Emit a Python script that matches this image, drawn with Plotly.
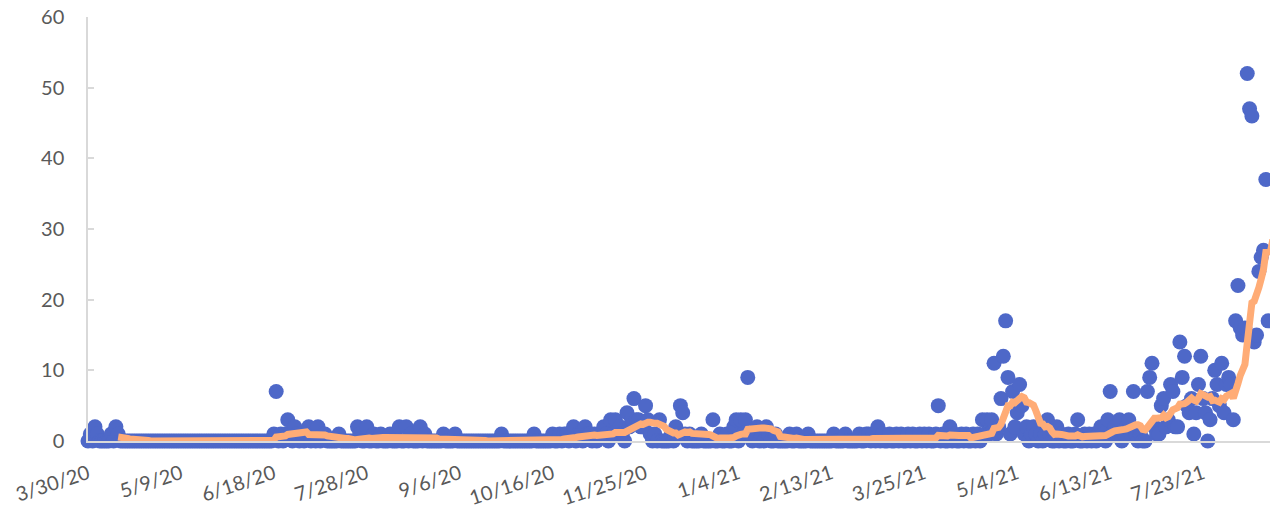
import pandas as pd
import plotly.graph_objects as go

# ---------------- data (daily values) ----------------
start_date = "2020-03-30"

counts_2020_03 = [0, 1]
counts_2020_04 = [0, 2, 1, 0, 0, 0, 0, 0, 1, 0, 2, 1, 0, 0, 0, 0, 0, 0, 0, 0,
                  0, 0, 0, 0, 0, 0, 0, 0, 0, 0]
counts_2020_05 = [0, 0, 0, 0, 0, 0, 0, 0, 0, 0, 0, 0, 0, 0, 0, 0, 0, 0, 0, 0,
                  0, 0, 0, 0, 0, 0, 0, 0, 0, 0, 0]
counts_2020_06 = [0, 0, 0, 0, 0, 0, 0, 0, 0, 0, 0, 0, 0, 0, 0, 0, 0, 1, 7, 0,
                  1, 0, 1, 3, 1, 0, 2, 1, 0, 1]
counts_2020_07 = [0, 1, 2, 0, 1, 0, 2, 0, 1, 1, 0, 0, 0, 0, 0, 1, 0, 0, 0, 0,
                  0, 0, 0, 2, 1, 0, 0, 2, 0, 0, 1]
counts_2020_08 = [0, 0, 1, 0, 0, 0, 1, 0, 0, 0, 2, 0, 0, 2, 0, 1, 0, 0, 0, 2,
                  0, 1, 0, 0, 0, 0, 0, 0, 0, 1, 0]
counts_2020_09 = [0, 0, 0, 1, 0, 0, 0, 0, 0, 0, 0, 0, 0, 0, 0, 0, 0, 0, 0, 0,
                  0, 0, 0, 1, 0, 0, 0, 0, 0, 0]
counts_2020_10 = [0, 0, 0, 0, 0, 0, 0, 1, 0, 0, 0, 0, 0, 0, 0, 1, 0, 0, 1, 0,
                  1, 1, 0, 1, 2, 0, 1, 1, 0, 2, 1]
counts_2020_11 = [1, 0, 1, 0, 1, 1, 2, 1, 0, 3, 1, 3, 1, 2, 1, 0, 4, 2, 3, 6,
                  3, 3, 2, 2, 5, 3, 1, 0, 1, 0]
counts_2020_12 = [3, 0, 0, 0, 0, 1, 0, 2, 1, 5, 4, 1, 0, 1, 0, 0, 0, 0, 1, 0,
                  0, 0, 0, 3, 0, 0, 1, 0, 0, 1, 0]
counts_2021_01 = [0, 2, 3, 0, 3, 1, 3, 9, 1, 0, 1, 2, 0, 1, 0, 2, 1, 0, 0, 1,
                  0, 0, 0, 0, 0, 1, 0, 0, 1, 0, 0]
counts_2021_02 = [0, 0, 1, 0, 0, 0, 0, 0, 0, 0, 0, 0, 0, 1, 0, 0, 0, 0, 1, 0,
                  0, 0, 0, 0, 1, 0, 0, 1]
counts_2021_03 = [1, 0, 1, 0, 2, 0, 1, 0, 0, 1, 0, 0, 1, 0, 1, 0, 0, 1, 0, 1,
                  0, 0, 1, 0, 1, 0, 1, 0, 0, 1, 5]
counts_2021_04 = [0, 1, 0, 0, 2, 0, 1, 0, 0, 1, 0, 1, 0, 0, 1, 0, 1, 0, 3, 1,
                  3, 1, 3, 11, 1, 2, 6, 12, 17, 9]
counts_2021_05 = [1, 7, 2, 4, 8, 5, 1, 2, 0, 1, 2, 1, 0, 1, 0, 1, 3, 1, 0, 0,
                  2, 0, 1, 0, 0, 1, 0, 0, 1, 3, 0]
counts_2021_06 = [0, 1, 0, 1, 0, 1, 0, 1, 2, 1, 0, 3, 7, 1, 2, 1, 3, 0, 1, 2,
                  3, 1, 7, 1, 0, 1, 0, 0, 7, 9]
counts_2021_07 = [11, 2, 1, 1, 5, 6, 2, 3, 8, 7, 2, 2, 14, 9, 12, 5, 4, 6, 1, 4,
                  8, 12, 6, 4, 0, 3, 6, 10, 8, 5, 11]
counts_2021_08 = [4, 8, 9, 8, 3, 17, 22, 16, 15, 16, 52, 47, 46, 14, 15, 24, 26,
                  27, 37, 17, 23, 40]

trend_window = 14  # moving-average period of the trend line

tick_dates = ["2020-03-30", "2020-05-09", "2020-06-18", "2020-07-28", "2020-09-06",
              "2020-10-16", "2020-11-25", "2021-01-04", "2021-02-13", "2021-03-25",
              "2021-05-04", "2021-06-13", "2021-07-23"]
tick_labels = ["3/30/20", "5/9/20", "6/18/20", "7/28/20", "9/6/20", "10/16/20",
               "11/25/20", "1/4/21", "2/13/21", "3/25/21", "5/4/21", "6/13/21",
               "7/23/21"]
y_ticks = [0, 10, 20, 30, 40, 50, 60]

# ---------------- build ----------------
daily_counts = (counts_2020_03 + counts_2020_04 + counts_2020_05 + counts_2020_06 +
                counts_2020_07 + counts_2020_08 + counts_2020_09 + counts_2020_10 +
                counts_2020_11 + counts_2020_12 + counts_2021_01 + counts_2021_02 +
                counts_2021_03 + counts_2021_04 + counts_2021_05 + counts_2021_06 +
                counts_2021_07 + counts_2021_08)
dates = pd.date_range(start_date, periods=len(daily_counts), freq="D")
trend = pd.Series(daily_counts).rolling(trend_window).mean()

fig = go.Figure()
fig.add_trace(go.Scatter(
    x=dates, y=daily_counts, mode="markers",
    marker=dict(size=15, color="#4E68C8", line=dict(width=0)),
    cliponaxis=False, showlegend=False, hoverinfo="skip"))
fig.add_trace(go.Scatter(
    x=dates, y=trend, mode="lines",
    line=dict(color="#FFAC76", width=7),
    cliponaxis=False, showlegend=False, hoverinfo="skip"))

fig.update_layout(
    width=1270, height=509,
    margin=dict(l=88, r=0, t=17, b=68, pad=0),
    paper_bgcolor="white", plot_bgcolor="white",
    font=dict(family="Lato, Open Sans, sans-serif", size=20, color="#595959"),
    xaxis=dict(
        type="date",
        range=["2020-03-30", "2021-08-20 19:00"],
        tickmode="array", tickvals=tick_dates, ticktext=tick_labels,
        tickangle=-18, ticks="", showgrid=False, zeroline=False,
        showline=True, linecolor="#D9D9D9", linewidth=1.5,
        ticklabelstandoff=12, automargin=False,
        tickfont=dict(size=20, color="#595959"),
    ),
    yaxis=dict(
        range=[0, 60], tickmode="array", tickvals=y_ticks,
        ticks="inside", ticklen=6, tickcolor="#D9D9D9", tickwidth=1.5,
        showgrid=False, zeroline=False,
        showline=True, linecolor="#D9D9D9", linewidth=1.5,
        ticklabelstandoff=18, automargin=False,
        tickfont=dict(size=20, color="#595959"),
    ),
)

fig.write_html("out.html", config={"displayModeBar": False},
               post_script="document.body.style.margin='0';")
